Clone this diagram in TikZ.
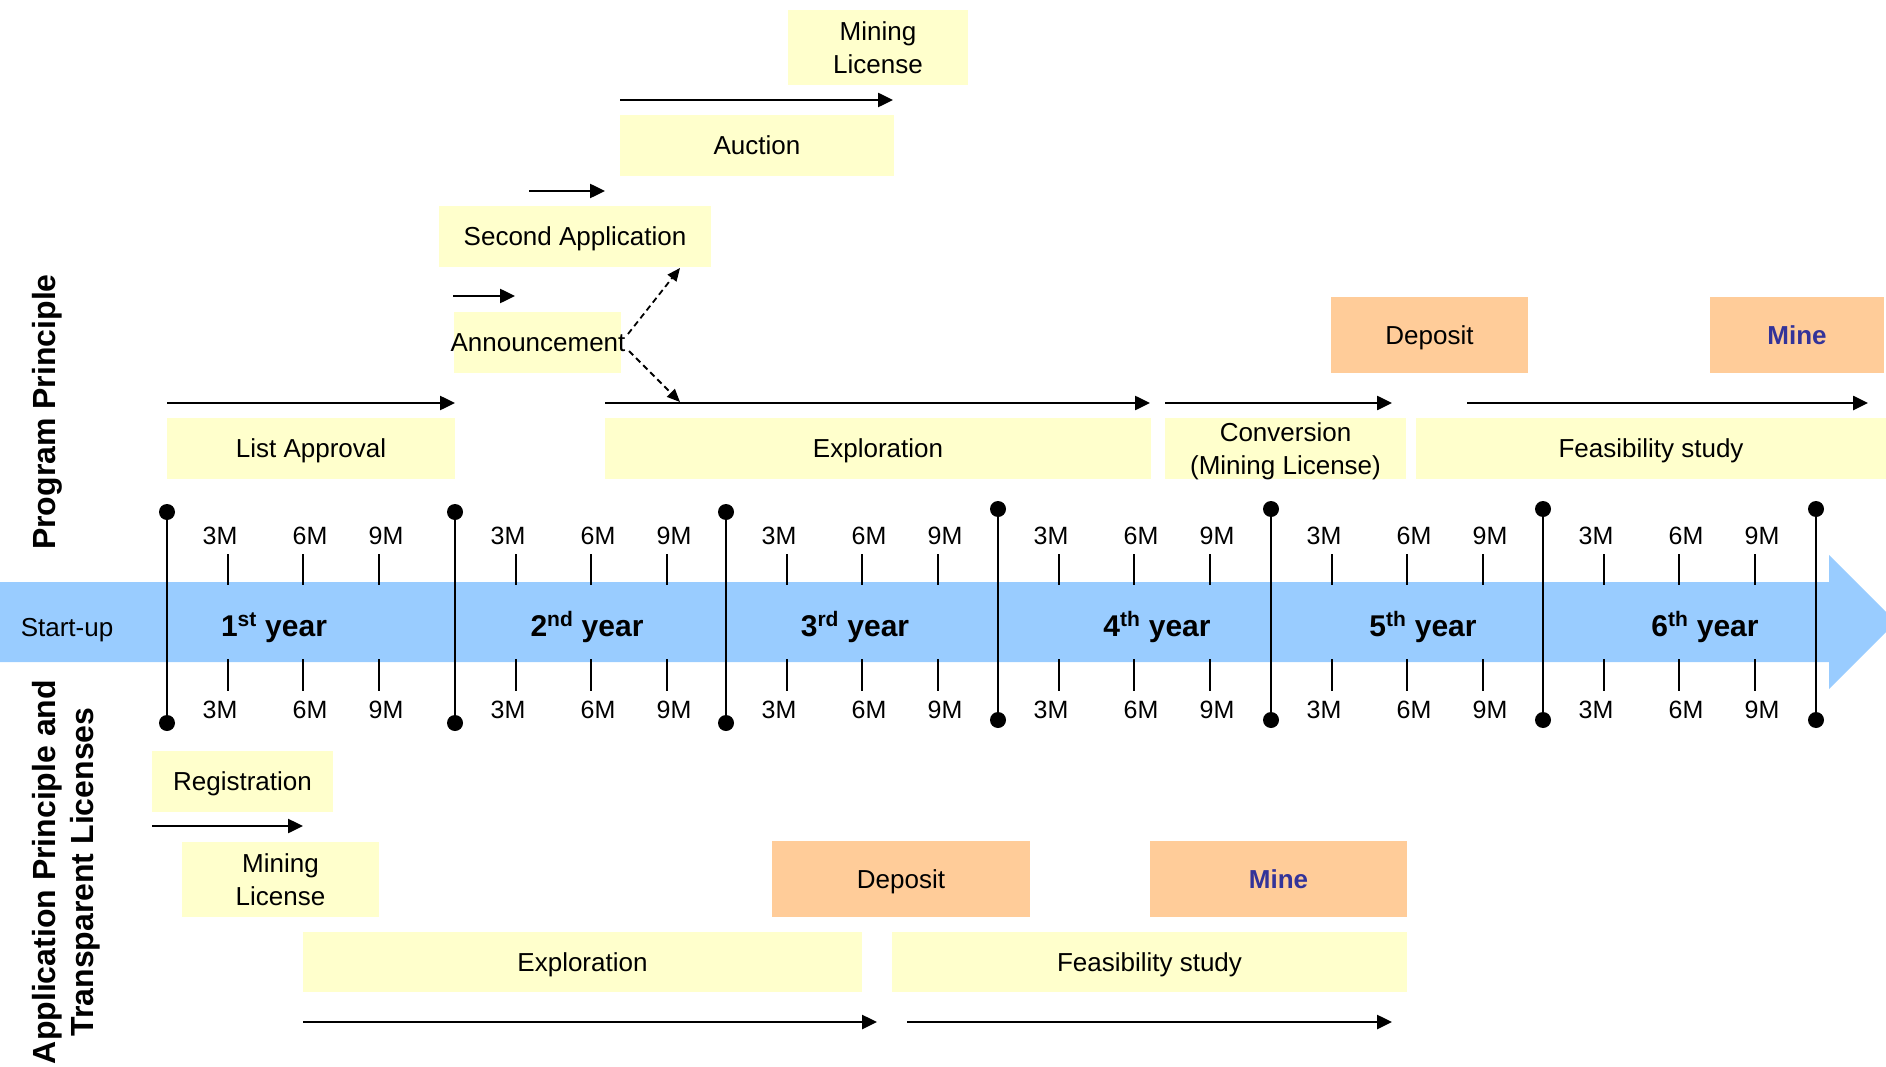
\documentclass[tikz,border=0pt]{standalone}
\usepackage{fontspec}
\setmainfont{Liberation Sans}
\usetikzlibrary{arrows.meta}
\definecolor{yfill}{HTML}{FFFFCC}
\definecolor{ofill}{HTML}{FFCC99}
\definecolor{bandblue}{HTML}{99CCFF}
\definecolor{minetext}{HTML}{333399}
\begin{document}
\begin{tikzpicture}[x=1pt,y=-1pt,font=\fontsize{26}{33}\selectfont,
  ybox/.style={fill=yfill,inner sep=0pt,align=center,text depth=0pt},
  obox/.style={fill=ofill,inner sep=0pt,align=center,text depth=0pt},
  arr/.style={line width=2.5pt,-{Triangle[length=15pt,width=14pt]}},
  darr/.style={line width=1.8pt,dash pattern=on 6pt off 4pt,-{Triangle[length=13pt,width=11pt]}},
  yearline/.style={line width=2.5pt},
  tickmark/.style={line width=2pt},
  mlabel/.style={font=\fontsize{25}{30}\selectfont},
  yearlabel/.style={font=\bfseries\fontsize{30}{35}\selectfont,anchor=base},
  sidelabel/.style={rotate=90,align=center,font=\bfseries\fontsize{32}{38}\selectfont},
  minetxt/.style={text=minetext,font=\bfseries\fontsize{26}{32}\selectfont}]
\useasboundingbox (0,0) rectangle (1886,1067);

% timeline band
\fill[bandblue] (0,582) -- (1829,582) -- (1829,555) -- (1886,612) -- (1886,632)
  -- (1829,689) -- (1829,662) -- (0,662) -- cycle;
\node[anchor=base] (startup) at (67,636) {Start-up};

% year lines
\foreach \X/\T/\B [count=\i] in {167/512/723,455/512/723,726/512/723,998/509/720,1271/509/720,1543/509/720,1816/509/720}{
  \coordinate (yt\i) at (\X,\T);
  \coordinate (yb\i) at (\X,\B);
  \draw[yearline] (yt\i) -- (yb\i);
  \fill (yt\i) circle (8pt);
  \fill (yb\i) circle (8pt);
}
% ticks and month labels
\foreach \X [count=\i] in {167,455,726,998,1271,1543}{
  \foreach \d/\lab/\o in {61/3M/-8,136/6M/7,212/9M/7}{
    \draw[tickmark] (\X+\d,554) -- (\X+\d,585);
    \draw[tickmark] (\X+\d,659) -- (\X+\d,691);
    \node[mlabel] (u\i\lab) at ({\X+\d+\o},536) {\lab};
    \node[mlabel] (l\i\lab) at ({\X+\d+\o},710) {\lab};
  }
}
\node[yearlabel] (yr1) at (274,636) {1\textsuperscript{st} year};
\node[yearlabel] (yr2) at (587,636) {2\textsuperscript{nd} year};
\node[yearlabel] (yr3) at (855,636) {3\textsuperscript{rd} year};
\node[yearlabel] (yr4) at (1157,636) {4\textsuperscript{th} year};
\node[yearlabel] (yr5) at (1423,636) {5\textsuperscript{th} year};
\node[yearlabel] (yr6) at (1705,636) {6\textsuperscript{th} year};

% side labels
\node[sidelabel] (pp) at (47,412) {Program Principle};
\node[sidelabel] (ap) at (66,872) {Application Principle and\\Transparent Licenses};

% ---------- Program principle (top) ----------
\node[ybox,minimum width=180pt,minimum height=75pt] (mlt) at (878,47.5) {Mining\\License};
\coordinate (auc1) at (620,100); \coordinate (auc2) at (893,100);
\draw[arr] (auc1) -- (auc2);
\node[ybox,minimum width=274pt,minimum height=61pt] (auc) at (757,145.5) {Auction};
\coordinate (sa1) at (529,191); \coordinate (sa2) at (605,191);
\draw[arr] (sa1) -- (sa2);
\node[ybox,minimum width=272pt,minimum height=61pt] (sa) at (575,236.5) {Second Application};
\coordinate (an1) at (453,296); \coordinate (an2) at (515,296);
\draw[arr] (an1) -- (an2);
\fill[yfill] (454,312) rectangle (621,373);
\node[text depth=0pt] (ann) at (538,343) {Announcement};
\coordinate (ds1) at (628,334); \coordinate (dt1) at (680,268);
\coordinate (ds2) at (629,351); \coordinate (dt2) at (680,402);
\draw[darr] (ds1) -- (dt1);
\draw[darr] (ds2) -- (dt2);

\coordinate (la1) at (167,403); \coordinate (la2) at (455,403);
\draw[arr] (la1) -- (la2);
\node[ybox,minimum width=288pt,minimum height=61pt] (la) at (311,448.5) {List Approval};
\coordinate (ex1) at (605,403); \coordinate (ex2) at (1150,403);
\draw[arr] (ex1) -- (ex2);
\node[ybox,minimum width=546pt,minimum height=61pt] (ex) at (878,448.5) {Exploration};
\coordinate (cv1) at (1165,403); \coordinate (cv2) at (1392,403);
\draw[arr] (cv1) -- (cv2);
\node[ybox,minimum width=241pt,minimum height=61pt] (cv) at (1285.5,448.5) {Conversion\\(Mining License)};
\coordinate (fs1) at (1467,403); \coordinate (fs2) at (1868,403);
\draw[arr] (fs1) -- (fs2);
\node[ybox,minimum width=470pt,minimum height=61pt] (fs) at (1651,448.5) {Feasibility study};
\node[obox,minimum width=197pt,minimum height=76pt] (dept) at (1429.5,335) {Deposit};
\node[obox,minimum width=174pt,minimum height=76pt,minetxt] (minet) at (1797,335) {Mine};

% ---------- Application principle (bottom) ----------
\node[ybox,minimum width=181pt,minimum height=61pt] (reg) at (242.5,781.5) {Registration};
\coordinate (rg1) at (152,826); \coordinate (rg2) at (303,826);
\draw[arr] (rg1) -- (rg2);
\node[ybox,minimum width=197pt,minimum height=75pt] (mlb) at (280.5,879.5) {Mining\\License};
\node[ybox,minimum width=559pt,minimum height=60pt] (exb) at (582.5,962) {Exploration};
\coordinate (eb1) at (303,1022); \coordinate (eb2) at (877,1022);
\draw[arr] (eb1) -- (eb2);
\node[obox,minimum width=258pt,minimum height=76pt] (depb) at (901,879) {Deposit};
\node[obox,minimum width=257pt,minimum height=76pt,minetxt] (mineb) at (1278.5,879) {Mine};
\node[ybox,minimum width=515pt,minimum height=60pt] (fsb) at (1149.5,962) {Feasibility study};
\coordinate (fb1) at (907,1022); \coordinate (fb2) at (1392,1022);
\draw[arr] (fb1) -- (fb2);
\end{tikzpicture}
\end{document}
